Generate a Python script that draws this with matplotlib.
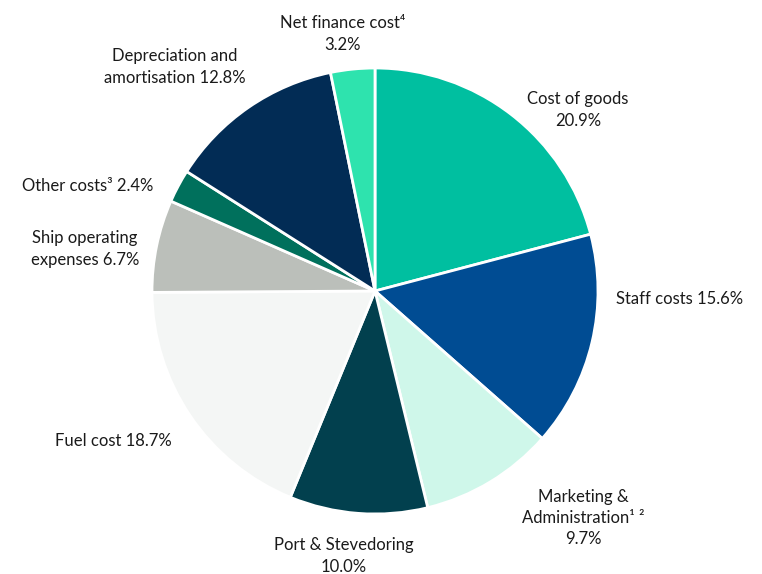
import matplotlib.pyplot as plt

# cost breakdown, clockwise from the top
categories = ['Cost of goods', 'Staff costs', 'Marketing & Administration',
              'Port & Stevedoring', 'Fuel cost', 'Ship operating expenses',
              'Other costs', 'Depreciation and amortisation', 'Net finance cost']
shares = [20.9, 15.6, 9.7, 10.0, 18.7, 6.7, 2.4, 12.8, 3.2]
colors = ['#00BFA0', '#004C93', '#CFF7EA', '#02404E', '#F4F6F5',
          '#BBBFBA', '#00705C', '#022C55', '#2EE3AE']

# label text and where it sits (pixel coords, top-left origin)
label_texts = ['Cost of goods\n20.9%', 'Staff costs 15.6%',
               'Marketing &\nAdministration\u00b9 \u00b2\n9.7%',
               'Port & Stevedoring\n10.0%', 'Fuel cost 18.7%',
               'Ship operating\nexpenses 6.7%', 'Other costs\u00b3 2.4%',
               'Depreciation and\namortisation 12.8%',
               'Net finance cost\u2074\n3.2%']
label_pos = [(578, 110), (680, 299), (583, 518), (344, 556), (113, 441),
             (85, 249), (88, 186), (175, 67), (343, 34)]

W, H = 762, 574
fig = plt.figure(figsize=(W / 100, H / 100), dpi=100)
ax = fig.add_axes([0, 0, 1, 1])

ax.pie(shares, colors=colors, startangle=90, counterclock=False,
       center=(375, H - 291), radius=223, frame=True,
       wedgeprops=dict(edgecolor='white', linewidth=2))
ax.set_xlim(0, W)
ax.set_ylim(0, H)
ax.axis('off')

for txt, (x, y) in zip(label_texts, label_pos):
    ax.text(x, H - y, txt, ha='center', va='center', fontsize=12,
            family=['Lato', 'DejaVu Sans'], color='#1a1a1a', linespacing=1.4)

fig.savefig('out.png', dpi=100)
